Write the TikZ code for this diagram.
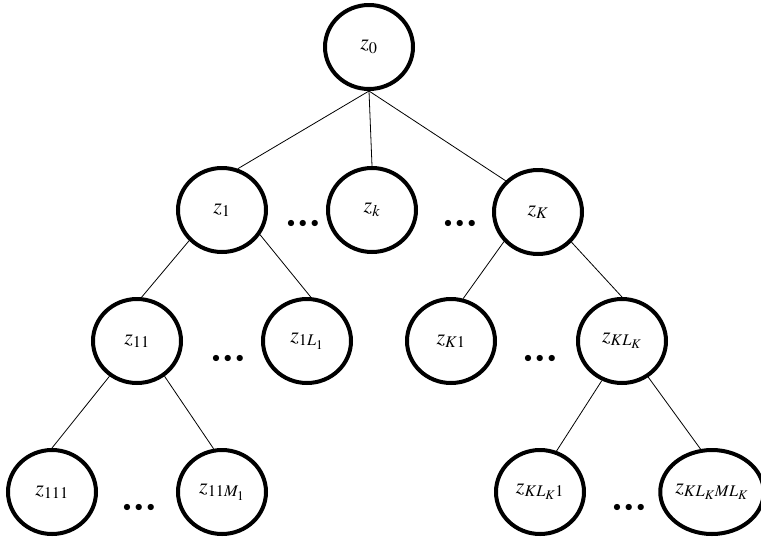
\documentclass[tikz,border=0pt]{standalone}
\usepackage{mathptmx}
\usetikzlibrary{shapes.geometric}
\begin{document}
\begin{tikzpicture}[x=1pt,y=-1pt,
  tn/.style={draw,line width=4pt,ellipse,minimum width=88pt,minimum height=84pt,inner sep=0pt,font=\fontsize{22}{26}\selectfont},
  dts/.style={inner sep=0pt,font=\fontsize{16}{20}\selectfont},
  edge/.style={line width=0.8pt}]
\useasboundingbox (0,0) rectangle (761,542);
\node[tn] (z0) at (369,47) {$z_0$};
\node[tn] (z1) at (222,210) {$z_1$};
\node[tn] (zk) at (372,210) {$z_k$};
\node[tn] (zK) at (538,212) {$z_K$};
\node[tn] (z11) at (137,341) {$z_{11}$};
\node[tn] (z1L) at (307,341) {$z_{1L_1}$};
\node[tn] (zK1) at (451,341) {$z_{K1}$};
\node[tn] (zKL) at (622,341) {$z_{KL_K}$};
\node[tn] (z111) at (52,492) {$z_{111}$};
\node[tn] (z11M) at (222,492) {$z_{11M_1}$};
\node[tn] (zKL1) at (540,492) {$z_{KL_K1}$};
\node[tn] (zKLM) at (712,492) {$z_{KL_KML_K}$};
\node[dts] (d1) at (303,224) {$\bullet\,\bullet\,\bullet$};
\node[dts] (d2) at (460,224) {$\bullet\,\bullet\,\bullet$};
\node[dts] (d3) at (228,359) {$\bullet\,\bullet\,\bullet$};
\node[dts] (d4) at (540,359) {$\bullet\,\bullet\,\bullet$};
\node[dts] (d5) at (139,508) {$\bullet\,\bullet\,\bullet$};
\node[dts] (d6) at (629,508) {$\bullet\,\bullet\,\bullet$};
\draw[edge] (z0.south) -- (z1.69);
\draw[edge] (z0.south) -- (zk.north);
\draw[edge] (z0.south) -- (zK.136);
\draw[edge] (z1.-137) -- (z11.84);
\draw[edge] (z1.-33) -- (z1L.85);
\draw[edge] (zK.-139) -- (zK1.74);
\draw[edge] (zK.-42) -- (zKL.90);
\draw[edge] (z11.-128) -- (z111.90);
\draw[edge] (z11.-52) -- (z11M.101);
\draw[edge] (zKL.-117) -- (zKL1.68);
\draw[edge] (zKL.-54) -- (zKLM.105);
\end{tikzpicture}
\end{document}
